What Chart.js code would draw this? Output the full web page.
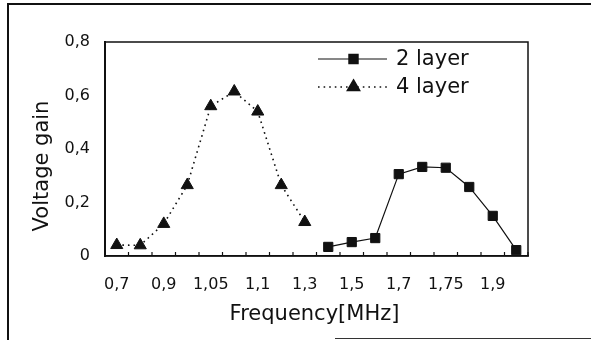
<!DOCTYPE html>
<html>
<head>
<meta charset="utf-8">
<script src="https://cdn.jsdelivr.net/npm/chart.js@4.4.1/dist/chart.umd.min.js"></script>
<style>
    html, body { margin: 0; padding: 0; background: #fff; }
    #wrap { position: relative; width: 591px; height: 340px; }
    #frame { position: absolute; left: 7px; top: 3px; width: 600px; height: 400px;
             border-left: 2px solid #111; border-top: 2px solid #111; pointer-events: none; }
    #frameBottom { position: absolute; left: 335px; top: 338px; width: 256px; height: 1px;
                   background: #333; pointer-events: none; }
</style>
</head>
<body>
<div id="wrap">
    <canvas id="gainChart" width="591" height="340"></canvas>
    <div id="frame"></div>
    <div id="frameBottom"></div>
</div>
<script>
// frequency categories (MHz) - only every other one is labelled on the axis
const freqLabels = ['0.7', '0.8', '0.9', '1', '1.05', '1.075', '1.1', '1.2', '1.3',
                    '1.4', '1.5', '1.6', '1.7', '1.725', '1.75', '1.8', '1.9', '2'];
const layer2Gain = [null, null, null, null, null, null, null, null, null,
                    0.034, 0.052, 0.067, 0.306, 0.333, 0.330, 0.258, 0.150, 0.022];
const layer4Gain = [0.041, 0.040, 0.120, 0.265, 0.560, 0.615, 0.540, 0.265, 0.127,
                    null, null, null, null, null, null, null, null, null];
const yTickValues = [0, 0.2, 0.4, 0.6, 0.8];

const FONT = "'DejaVu Sans', sans-serif";

function withComma(v) {
    return String(v).replace('.', ',');
}

// plot box, inward x ticks, custom legend and axis titles
const decorPlugin = {
    id: 'decor',
    afterDraw(chart) {
        const ctx = chart.ctx;
        const area = chart.chartArea;
        const xs = chart.scales.x;
        ctx.save();
        ctx.strokeStyle = '#111';
        ctx.lineWidth = 1.5;
        ctx.strokeRect(area.left, area.top, area.right - area.left, area.bottom - area.top);

        // small ticks pointing up between categories
        const step = xs.getPixelForValue(1) - xs.getPixelForValue(0);
        ctx.lineWidth = 1.2;
        for (let i = 0; i <= freqLabels.length; i++) {
            const x = xs.getPixelForValue(0) - step / 2 + i * step;
            ctx.beginPath();
            ctx.moveTo(x, area.bottom);
            ctx.lineTo(x, area.bottom - 4);
            ctx.stroke();
        }

        // legend inside plot
        const lx0 = area.left + 213;
        const lx1 = area.left + 282;
        chart.data.datasets.forEach(function(ds, i) {
            const y = area.top + 17 + i * 28;
            ctx.strokeStyle = '#111';
            ctx.lineWidth = ds.borderWidth;
            ctx.setLineDash(ds.borderDash || []);
            ctx.beginPath();
            ctx.moveTo(lx0, y);
            ctx.lineTo(lx1, y);
            ctx.stroke();
            ctx.setLineDash([]);
            ctx.fillStyle = '#111';
            Chart.helpers.drawPoint(ctx, {
                pointStyle: ds.pointStyle,
                radius: ds.pointRadius,
                borderWidth: 1,
                rotation: 0
            }, (lx0 + lx1) / 2 + 1, y);
            ctx.fillStyle = '#111';
            ctx.font = '21px ' + FONT;
            ctx.textAlign = 'left';
            ctx.textBaseline = 'middle';
            ctx.fillText(ds.label, lx1 + 9, y + 1);
        });

        // axis titles
        ctx.fillStyle = '#111';
        ctx.font = '21px ' + FONT;
        ctx.textAlign = 'center';
        ctx.textBaseline = 'middle';
        ctx.fillText('Frequency[MHz]', (area.left + area.right) / 2 - 2, 315);

        ctx.translate(43, 166);
        ctx.rotate(-Math.PI / 2);
        ctx.fillText('Voltage gain', 0, 0);
        ctx.restore();
    }
};

const gainCtx = document.getElementById('gainChart').getContext('2d');

new Chart(gainCtx, {
    type: 'line',
    data: {
        labels: freqLabels,
        datasets: [{
            label: '2 layer',
            data: layer2Gain,
            borderColor: '#111',
            backgroundColor: '#111',
            borderWidth: 1.2,
            pointStyle: 'rect',
            pointRadius: 6.5,
            pointBorderWidth: 1,
            tension: 0,
            fill: false
        }, {
            label: '4 layer',
            data: layer4Gain,
            borderColor: '#111',
            backgroundColor: '#111',
            borderWidth: 1.6,
            borderDash: [1.6, 4],
            pointStyle: 'triangle',
            pointRadius: 7,
            pointBorderWidth: 1,
            tension: 0,
            fill: false
        }]
    },
    options: {
        responsive: false,
        animation: false,
        layout: {
            padding: { left: 8, top: 42, right: 63, bottom: 0 }
        },
        plugins: {
            legend: { display: false },
            tooltip: { enabled: false }
        },
        scales: {
            x: {
                offset: true,
                grid: { display: false, drawTicks: false },
                border: { display: true, color: '#111', width: 1.5 },
                ticks: {
                    autoSkip: false,
                    maxRotation: 0,
                    padding: 19,
                    color: '#111',
                    font: { family: FONT, size: 16 },
                    callback: function(value, index) {
                        return index % 2 === 0 ? withComma(freqLabels[index]) : '';
                    }
                },
                afterFit: function(scale) { scale.height = 84; }
            },
            y: {
                min: 0,
                max: 0.8,
                afterBuildTicks: function(scale) {
                    scale.ticks = yTickValues.map(function(v) { return { value: v }; });
                },
                grid: { display: false, drawTicks: false },
                border: { display: true, color: '#111', width: 2 },
                ticks: {
                    padding: 15,
                    color: '#111',
                    font: { family: FONT, size: 16 },
                    callback: function(value) { return withComma(value); }
                },
                afterFit: function(scale) { scale.width = 97; }
            }
        }
    },
    plugins: [decorPlugin]
});
</script>
</body>
</html>
